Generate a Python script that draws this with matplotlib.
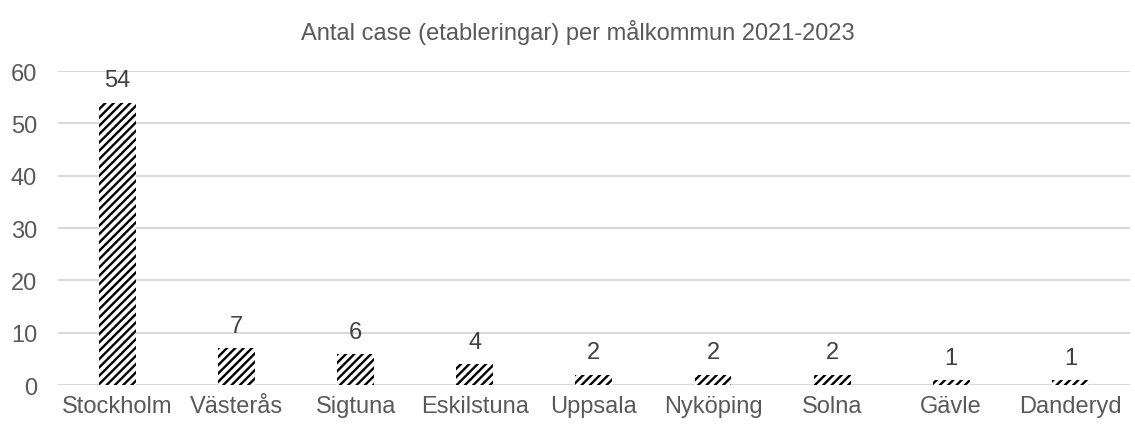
import matplotlib
matplotlib.use("Agg")
import matplotlib.pyplot as plt
import numpy as np

kommuner = ["Stockholm", "Västerås", "Sigtuna", "Eskilstuna", "Uppsala",
            "Nyköping", "Solna", "Gävle", "Danderyd"]
antal = [54, 7, 6, 4, 2, 2, 2, 1, 1]
titel = "Antal case (etableringar) per målkommun 2021-2023"

plt.rcParams["font.family"] = ["Liberation Sans", "DejaVu Sans"]
plt.rcParams["hatch.linewidth"] = 1.7
grey = "#595959"

fig = plt.figure(figsize=(11.35, 4.27), dpi=100)
ax = fig.add_axes([0.051, 0.096, 0.9445, 0.735])

x = np.arange(len(kommuner))
bars = ax.bar(x, antal, width=0.31, color="white", edgecolor="black",
              linewidth=0, hatch="////", zorder=3)

for b, v in zip(bars, antal):
    ax.annotate(str(v), (b.get_x() + b.get_width() / 2, v),
                xytext=(0, 8), textcoords="offset points",
                ha="center", va="bottom", fontsize=17, color="#404040")

ax.set_xlim(-0.5, len(kommuner) - 0.5)
ax.set_ylim(0, 60)
ax.set_yticks(range(0, 61, 10))
ax.set_xticks(x)
ax.set_xticklabels(kommuner)
ax.tick_params(axis="y", length=0, pad=15, labelsize=17, labelcolor=grey)
ax.tick_params(axis="x", length=0, pad=7, labelsize=17, labelcolor=grey)
ax.grid(axis="y", color="#d9d9d9", linewidth=1.5, zorder=0)
for s in ax.spines.values():
    s.set_visible(False)

fig.text(578 / 1135, 0.923, titel, ha="center", va="center",
         fontsize=17, color=grey)

fig.savefig("out.png", dpi=100)
